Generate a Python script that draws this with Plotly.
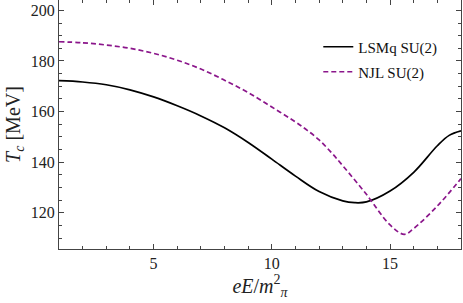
import plotly.graph_objects as go

x_lsm = [1, 2, 3, 4, 5, 6, 7, 8, 9, 10, 11, 12, 13, 13.5, 14, 15, 16, 17, 17.5, 18]
t_lsm = [172.2, 171.7, 170.6, 168.6, 165.8, 162.3, 158.3, 153.6, 147.8, 141.2, 134.5, 128.4, 124.7, 124.0, 124.3, 128.6, 136.0, 146.5, 150.6, 152.4]

x_njl = [1, 2, 3, 4, 5, 6, 7, 8, 9, 10, 11, 11.5, 12, 12.5, 13, 14, 15, 15.6, 16, 17, 18]
t_njl = [187.6, 187.2, 186.3, 185.0, 183.0, 180.3, 176.8, 172.4, 167.5, 161.8, 155.9, 152.6, 148.8, 144.0, 138.6, 127.3, 115.2, 111.5, 113.8, 122.7, 133.5]

font = "Liberation Serif, Times New Roman, serif"
fig = go.Figure()
fig.add_trace(go.Scatter(x=x_lsm, y=t_lsm, mode="lines", name="LSMq SU(2)", legend="legend",
                         showlegend=True,
                         line=dict(color="black", width=1.7, shape="spline", smoothing=1.0)))
fig.add_trace(go.Scatter(x=x_njl, y=t_njl, mode="lines", name="NJL SU(2)", legend="legend2",
                         showlegend=True,
                         line=dict(color="#8B168B", width=1.7, dash="5px,3px", shape="spline", smoothing=1.0)))

axis_common = dict(showline=True, mirror="allticks", linecolor="#444", linewidth=1.2,
                   ticks="inside", ticklen=5, tickcolor="#444", showgrid=False, zeroline=False,
                   automargin=False,
                   tickfont=dict(family=font, size=16, color="#222"))
fig.update_xaxes(range=[1, 18], tickvals=[5, 10, 15],
                 minor=dict(dtick=1, tick0=0, ticks="inside", ticklen=3, tickcolor="#444"),
                 title=dict(text="<i>eE</i>/<i>m</i><sup>2</sup><sub><i>π</i></sub>",
                            font=dict(family=font, size=20, color="#222"), standoff=4),
                 **axis_common)
fig.update_yaxes(range=[105.7, 204.1], tickvals=[120, 140, 160, 180, 200],
                 minor=dict(dtick=5, tick0=0, ticks="inside", ticklen=3, tickcolor="#444"),
                 title=dict(text="<i>T</i><sub><i>c</i></sub> [MeV]",
                            font=dict(family=font, size=20, color="#222"), standoff=4),
                 **axis_common)
leg = dict(x=0.645, xanchor="left", yanchor="middle", visible=True,
           font=dict(family=font, size=15, color="#111"), bgcolor="rgba(0,0,0,0)")
fig.update_layout(width=463, height=303, margin=dict(l=59, r=2, t=0, b=54),
                  font=dict(family=font),
                  showlegend=True,
                  plot_bgcolor="white", paper_bgcolor="white",
                  legend=dict(y=1 - 47 / 249, **leg),
                  legend2=dict(y=1 - 72 / 249, **leg))
fig.write_html("out.html", post_script="document.body.style.margin='0';",
               config={"displayModeBar": False})
